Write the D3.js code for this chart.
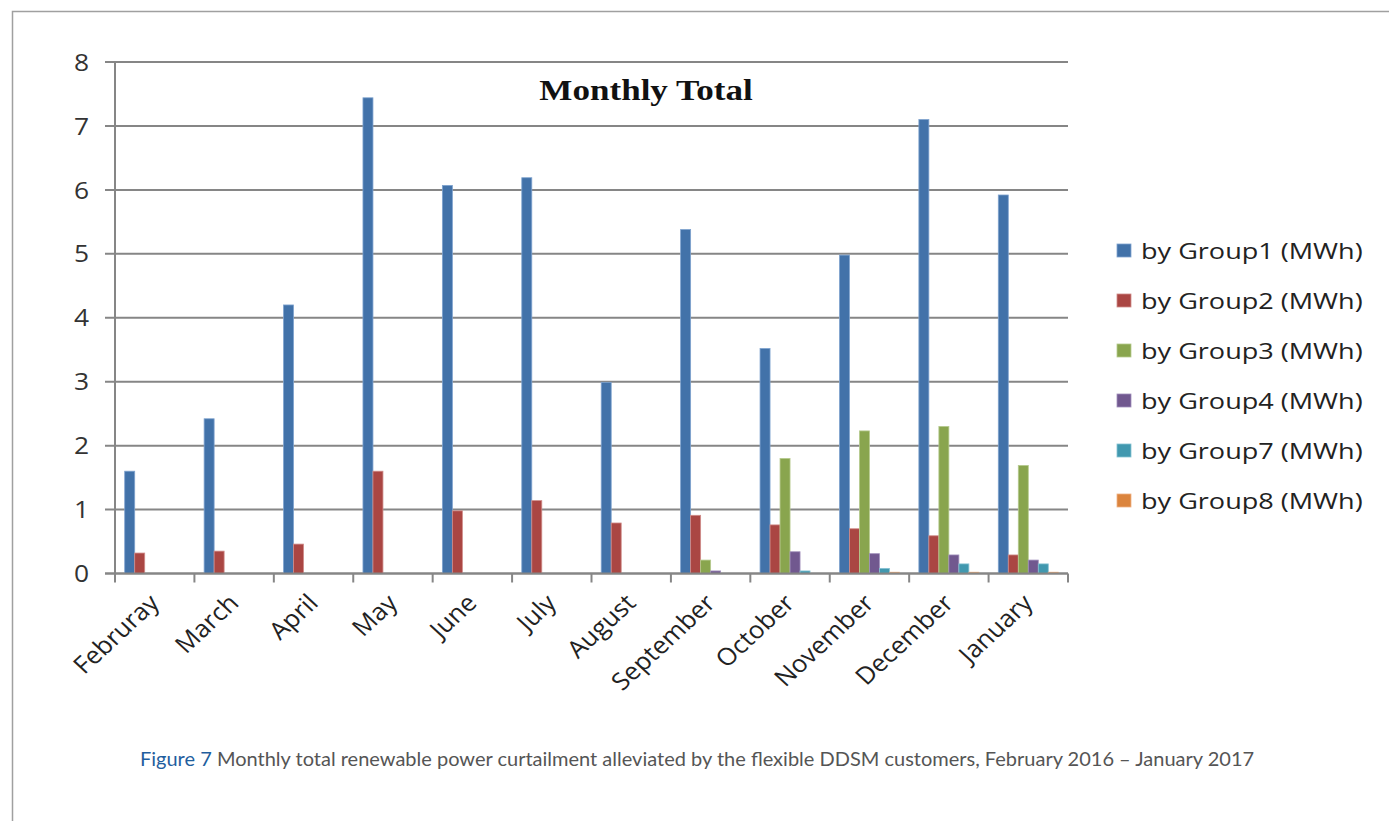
<!DOCTYPE html>
<html>
<head>
<meta charset="utf-8">
<script src="https://cdn.jsdelivr.net/npm/d3@7"></script>
<style>
  html, body { margin: 0; padding: 0; background: #fff; }
  svg { display: block; }
</style>
</head>
<body>
<svg id="chart" width="1389" height="821"></svg>
<script>
// Months covered (Feb 2016 – Jan 2017), label spelling kept as in the source chart
const months = ["Februray", "March", "April", "May", "June", "July",
                "August", "September", "October", "November", "December", "January"];

const seriesNames = ["by Group1 (MWh)", "by Group2 (MWh)", "by Group3 (MWh)",
                     "by Group4 (MWh)", "by Group7 (MWh)", "by Group8 (MWh)"];

// Curtailment alleviated per group, MWh
const group1 = [1.60, 2.42, 4.20, 7.44, 6.07, 6.19, 2.99, 5.38, 3.52, 4.98, 7.10, 5.92];
const group2 = [0.32, 0.35, 0.46, 1.60, 0.98, 1.14, 0.79, 0.91, 0.76, 0.70, 0.59, 0.29];
const group3 = [0, 0, 0, 0, 0, 0, 0, 0.21, 1.80, 2.23, 2.30, 1.69];
const group4 = [0, 0, 0, 0, 0, 0, 0, 0.04, 0.34, 0.31, 0.29, 0.21];
const group7 = [0, 0, 0, 0, 0, 0, 0, 0, 0.04, 0.08, 0.15, 0.15];
const group8 = [0, 0, 0, 0, 0, 0, 0, 0, 0, 0.02, 0.02, 0.02];

const yTicks = [0, 1, 2, 3, 4, 5, 6, 7, 8];

const colors = ["#4272A9", "#AA4643", "#89A54E", "#71588F", "#4198AF", "#DB843D"];
const edgeColors = ["#7FA3CF", "#D08C89", "#B6CA8E", "#A08FBB", "#86C2D3", "#EFB285"];

const seriesValues = [group1, group2, group3, group4, group7, group8];
const data = months.map((m, i) => ({
  month: m,
  values: seriesNames.map((s, k) => ({ key: s, k, value: seriesValues[k][i] }))
}));

const svg = d3.select("#chart");

// outer figure frame
svg.append("rect")
  .attr("x", 12.5).attr("y", 11.5)
  .attr("width", 1400).attr("height", 900)
  .attr("fill", "none").attr("stroke", "#a0a0a0").attr("stroke-width", 1.5);

const plot = { left: 115, right: 1068, top: 62, bottom: 573.5 };

const x0 = d3.scaleBand().domain(months).range([plot.left, plot.right]).padding(0);
const barW = 10;
const groupW = barW * seriesNames.length;
const x1 = d3.scaleBand().domain(seriesNames)
  .range([(x0.bandwidth() - groupW) / 2, (x0.bandwidth() + groupW) / 2]).padding(0);
const y = d3.scaleLinear().domain([0, 8]).range([plot.bottom, plot.top]);

const axisColor = "#868686";

// horizontal gridlines with outward tick stubs
svg.append("g")
  .selectAll("line")
  .data(yTicks)
  .join("line")
  .attr("x1", plot.left - 10).attr("x2", plot.right)
  .attr("y1", d => y(d)).attr("y2", d => y(d))
  .attr("stroke", axisColor).attr("stroke-width", 2);

// y-axis line
svg.append("line")
  .attr("x1", plot.left).attr("x2", plot.left)
  .attr("y1", plot.top).attr("y2", plot.bottom)
  .attr("stroke", axisColor).attr("stroke-width", 2);

// category tick marks
const boundaries = months.map(m => x0(m)).concat([plot.right]);
svg.append("g")
  .selectAll("line")
  .data(boundaries)
  .join("line")
  .attr("x1", d => d).attr("x2", d => d)
  .attr("y1", plot.bottom).attr("y2", plot.bottom + 9)
  .attr("stroke", axisColor).attr("stroke-width", 2);

// y tick labels
svg.append("g")
  .selectAll("text")
  .data(yTicks)
  .join("text")
  .attr("transform", d => `translate(89,${y(d)}) scale(1.1,1)`)
  .attr("dy", "0.36em")
  .attr("text-anchor", "end")
  .attr("font-family", "Open Sans, sans-serif")
  .attr("font-size", 24)
  .attr("fill", "#333")
  .text(d => d);

// bars
const groups = svg.append("g")
  .selectAll("g")
  .data(data)
  .join("g")
  .attr("transform", d => `translate(${x0(d.month)},0)`);

groups.selectAll("rect")
  .data(d => d.values.filter(v => v.value > 0))
  .join("rect")
  .attr("x", d => x1(d.key))
  .attr("width", x1.bandwidth())
  .attr("y", d => y(d.value))
  .attr("height", d => y(0) - y(d.value))
  .attr("fill", d => colors[d.k])
  .attr("stroke", d => edgeColors[d.k])
  .attr("stroke-width", 0.8);

// redraw baseline above the bars
svg.append("line")
  .attr("x1", plot.left - 10).attr("x2", plot.right)
  .attr("y1", y(0)).attr("y2", y(0))
  .attr("stroke", axisColor).attr("stroke-width", 2);

// rotated month labels
svg.append("g")
  .selectAll("text")
  .data(months)
  .join("text")
  .attr("transform", d => `translate(${x0(d) + x0.bandwidth() / 2 + 6},${plot.bottom + 31}) scale(1.08,1) rotate(-45)`)
  .attr("text-anchor", "end")
  .attr("font-family", "Open Sans, sans-serif")
  .attr("font-size", 24)
  .attr("fill", "#222")
  .text(d => d);

// chart title
svg.append("text")
  .attr("transform", "translate(646,100) scale(1.21,1)")
  .attr("text-anchor", "middle")
  .attr("font-family", "Liberation Serif, serif")
  .attr("font-weight", "bold")
  .attr("font-size", 29)
  .attr("fill", "#111")
  .text("Monthly Total");

// legend
const legend = svg.append("g")
  .selectAll("g")
  .data(seriesNames)
  .join("g")
  .attr("transform", (d, i) => `translate(1117,${251 + i * 50})`);

legend.append("rect")
  .attr("x", 0).attr("y", -7)
  .attr("width", 14).attr("height", 13)
  .attr("fill", (d, i) => colors[i])
  .attr("stroke", (d, i) => edgeColors[i])
  .attr("stroke-width", 0.8);

legend.append("text")
  .attr("transform", "translate(24,0) scale(1.23,1)")
  .attr("dy", "0.35em")
  .attr("font-family", "Open Sans, sans-serif")
  .attr("font-size", 22)
  .attr("fill", "#222")
  .text(d => d);

// figure caption
const caption = svg.append("text")
  .attr("x", 140).attr("y", 766)
  .attr("font-family", "Lato, sans-serif")
  .attr("font-size", 20);
caption.append("tspan").attr("fill", "#1F5E9E").text("Figure 7");
caption.append("tspan").attr("fill", "#555").text(" Monthly total renewable power curtailment alleviated by the flexible DDSM customers, February 2016 – January 2017");
</script>
</body>
</html>
